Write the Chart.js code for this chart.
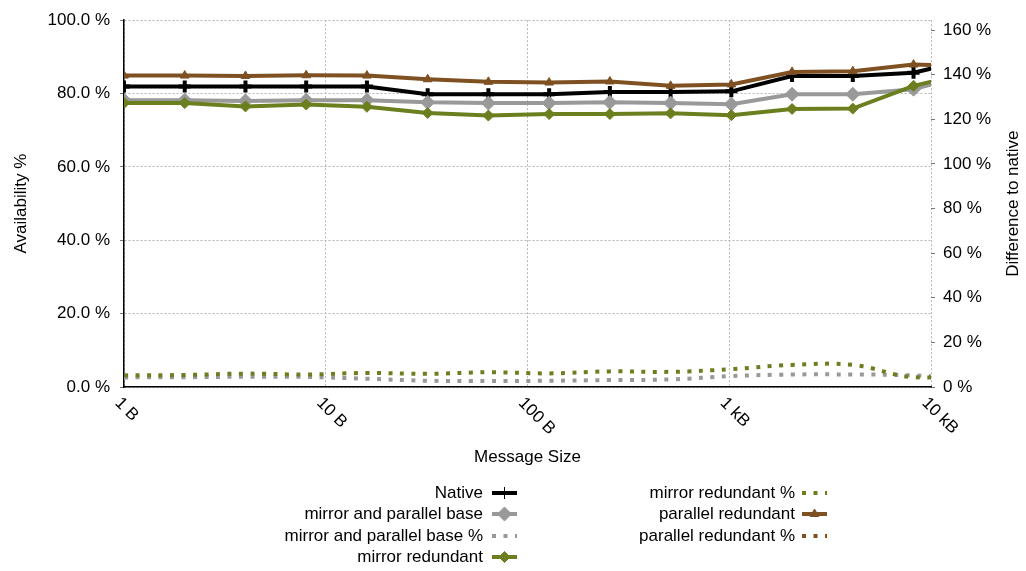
<!DOCTYPE html>
<html>
<head>
<meta charset="utf-8">
<script src="https://cdn.jsdelivr.net/npm/chart.js@4/dist/chart.umd.min.js"></script>
<style>
  html, body { margin: 0; padding: 0; background: #fff; }
</style>
</head>
<body>
<canvas id="chart" width="1026" height="571"></canvas>
<script>
// Message sizes in bytes (last point lies beyond the 10 kB edge and gets clipped)
const messageSizes = [1, 2, 4, 8, 16, 32, 64, 128, 256, 512, 1024, 2048, 4096, 8192, 16384];

// Availability % (left axis)
const nativeAvail   = [81.9, 81.9, 81.9, 81.9, 81.9, 79.8, 79.8, 79.8, 80.4, 80.4, 80.6, 84.8, 84.8, 85.7, 89.5];
const baseAvail     = [78.2, 78.2, 78.0, 78.2, 78.2, 77.6, 77.4, 77.4, 77.6, 77.4, 77.1, 79.8, 79.8, 81.2, 85.8];
const mirrorAvail   = [77.4, 77.4, 76.5, 77.0, 76.4, 74.7, 74.0, 74.4, 74.4, 74.6, 74.1, 75.8, 75.9, 82.1, 86.0];
const parallelAvail = [84.9, 84.9, 84.8, 85.0, 84.9, 83.9, 83.2, 83.0, 83.3, 82.1, 82.5, 85.9, 86.1, 87.9, 87.5];

// Difference to native % (right axis)
const baseDiff     = [4.3, 4.4, 4.6, 4.5, 3.7, 2.8, 2.7, 2.8, 3.1, 3.4, 4.9, 5.6, 5.6, 5.2, 3.5];
const mirrorDiff   = [5.2, 5.4, 6.0, 5.6, 6.3, 5.9, 6.6, 6.1, 7.0, 6.8, 8.0, 9.9, 9.9, 4.4, 6.0];
const parallelDiff = [-3.5, -3.5, -3.4, -3.6, -3.5, -4.9, -4.1, -3.9, -3.5, -2.1, -2.4, -1.3, -1.5, -2.5, -2.0];

// Axis labels
const xTickValues = [1, 10, 100, 1000, 10000];
const xTickLabels = ['1 B', '10 B', '100 B', '1 kB', '10 kB'];
const leftTicks = [0, 20, 40, 60, 80, 100];
const rightTicks = [0, 20, 40, 60, 80, 100, 120, 140, 160];

const black = '#000000';
const gray = '#999999';
const green = '#6b7f1f';
const brown = '#7f5122';
const FONT = '"Liberation Sans", Arial, sans-serif';

function pts(values) {
    return values.map((v, i) => ({ x: messageSizes[i], y: v }));
}

function solid(label, values, color, style, radius, pointWidth) {
    return {
        label: label, data: pts(values), yAxisID: 'y',
        borderColor: color, backgroundColor: color, borderWidth: 4,
        pointStyle: style, pointRadius: radius, pointBorderWidth: pointWidth,
        pointBackgroundColor: color, pointBorderColor: color,
        tension: 0, clip: 0
    };
}

function dotted(label, values, color) {
    return {
        label: label, data: pts(values), yAxisID: 'y1',
        borderColor: color, backgroundColor: color, borderWidth: 4,
        borderDash: [4, 7.5], pointRadius: 0, tension: 0.4, clip: 0
    };
}

const datasets = [
    solid('Native', nativeAvail, black, 'cross', 6, 4),
    solid('mirror and parallel base', baseAvail, gray, 'rectRot', 7, 1),
    dotted('mirror and parallel base %', baseDiff, gray),
    solid('mirror redundant', mirrorAvail, green, 'rectRot', 5.5, 1),
    dotted('mirror redundant %', mirrorDiff, green),
    solid('parallel redundant', parallelAvail, brown, 'triangle', 5, 1),
    dotted('parallel redundant %', parallelDiff, brown)
];
// later series drawn on top
datasets.forEach((d, i) => { d.order = -i; });

// Titles, rotated x labels and the two-column legend
const decorations = {
    id: 'decorations',
    afterDraw(chart) {
        const ctx = chart.ctx;
        const area = chart.chartArea;
        const xs = chart.scales.x;
        ctx.save();
        ctx.fillStyle = '#000';
        ctx.font = '17px ' + FONT;

        // x tick labels, rotated down-right
        xTickValues.forEach((v, i) => {
            const px = xs.getPixelForValue(v);
            ctx.save();
            ctx.translate(px - 0.5, area.bottom + 7.5);
            ctx.rotate(Math.PI / 4);
            ctx.textAlign = 'left';
            ctx.textBaseline = 'top';
            ctx.fillText(xTickLabels[i], 0, 0);
            ctx.restore();
        });

        const midY = (area.top + area.bottom) / 2;
        ctx.textAlign = 'center';
        ctx.textBaseline = 'middle';
        ctx.fillText('Message Size', (area.left + area.right) / 2, 457);

        ctx.save();
        ctx.translate(21, midY);
        ctx.rotate(-Math.PI / 2);
        ctx.fillText('Availability %', 0, 0);
        ctx.restore();

        ctx.save();
        ctx.translate(1013, midY);
        ctx.rotate(-Math.PI / 2);
        ctx.fillText('Difference to native', 0, 0);
        ctx.restore();

        // legend
        const textRight = [483, 795];
        const symStart = [492, 802];
        const symLen = 25;
        const rowY = [493, 514, 536, 557];
        chart.data.datasets.forEach((ds, i) => {
            const col = i < 4 ? 0 : 1;
            const y = rowY[i < 4 ? i : i - 4];
            ctx.fillStyle = '#000';
            ctx.textAlign = 'right';
            ctx.textBaseline = 'middle';
            ctx.fillText(ds.label, textRight[col], y);

            const x0 = symStart[col];
            ctx.save();
            ctx.strokeStyle = ds.borderColor;
            ctx.lineWidth = ds.borderWidth;
            ctx.setLineDash(ds.borderDash || []);
            ctx.beginPath();
            ctx.moveTo(x0, y);
            ctx.lineTo(x0 + symLen, y);
            ctx.stroke();
            ctx.restore();
            if (ds.pointRadius > 0) {
                ctx.save();
                ctx.fillStyle = ds.pointBackgroundColor;
                ctx.strokeStyle = ds.pointBorderColor;
                Chart.helpers.drawPoint(ctx, {
                    pointStyle: ds.pointStyle, radius: ds.pointRadius,
                    borderWidth: ds.pointBorderWidth, rotation: 0
                }, x0 + symLen / 2, y);
                ctx.restore();
            }
        });
        ctx.restore();
    }
};

new Chart(document.getElementById('chart'), {
    type: 'line',
    data: { datasets: datasets },
    options: {
        responsive: false,
        animation: false,
        devicePixelRatio: 1,
        layout: { padding: { top: 17 } },
        plugins: { legend: { display: false }, tooltip: { enabled: false } },
        scales: {
            x: {
                type: 'logarithmic',
                min: 1,
                max: 10000,
                afterBuildTicks: s => { s.ticks = xTickValues.map(v => ({ value: v })); },
                afterFit: s => { s.height = 184; },
                ticks: { display: false },
                grid: { color: '#b5b5b5', drawTicks: false },
                border: { display: true, color: '#000', width: 1.5, dash: [2, 2] }
            },
            y: {
                position: 'left',
                min: 0,
                max: 100,
                afterBuildTicks: s => { s.ticks = leftTicks.map(v => ({ value: v })); },
                afterFit: s => { s.width = 124; },
                ticks: {
                    color: '#000', padding: 10,
                    font: { family: FONT, size: 17 },
                    callback: v => v.toFixed(1) + ' %'
                },
                grid: { color: '#b5b5b5', tickLength: 4, tickColor: '#777', tickBorderDash: [] },
                border: { display: true, color: '#000', width: 1.5, dash: [2, 2] }
            },
            y1: {
                position: 'right',
                min: 0,
                max: 164.44,
                afterBuildTicks: s => { s.ticks = rightTicks.map(v => ({ value: v })); },
                afterFit: s => { s.width = 95; },
                ticks: {
                    color: '#000', padding: 8,
                    font: { family: FONT, size: 17 },
                    callback: v => v + ' %'
                },
                grid: { drawOnChartArea: false, color: '#777', tickLength: 4 },
                border: { display: false }
            }
        }
    },
    plugins: [decorations]
});
</script>
</body>
</html>
